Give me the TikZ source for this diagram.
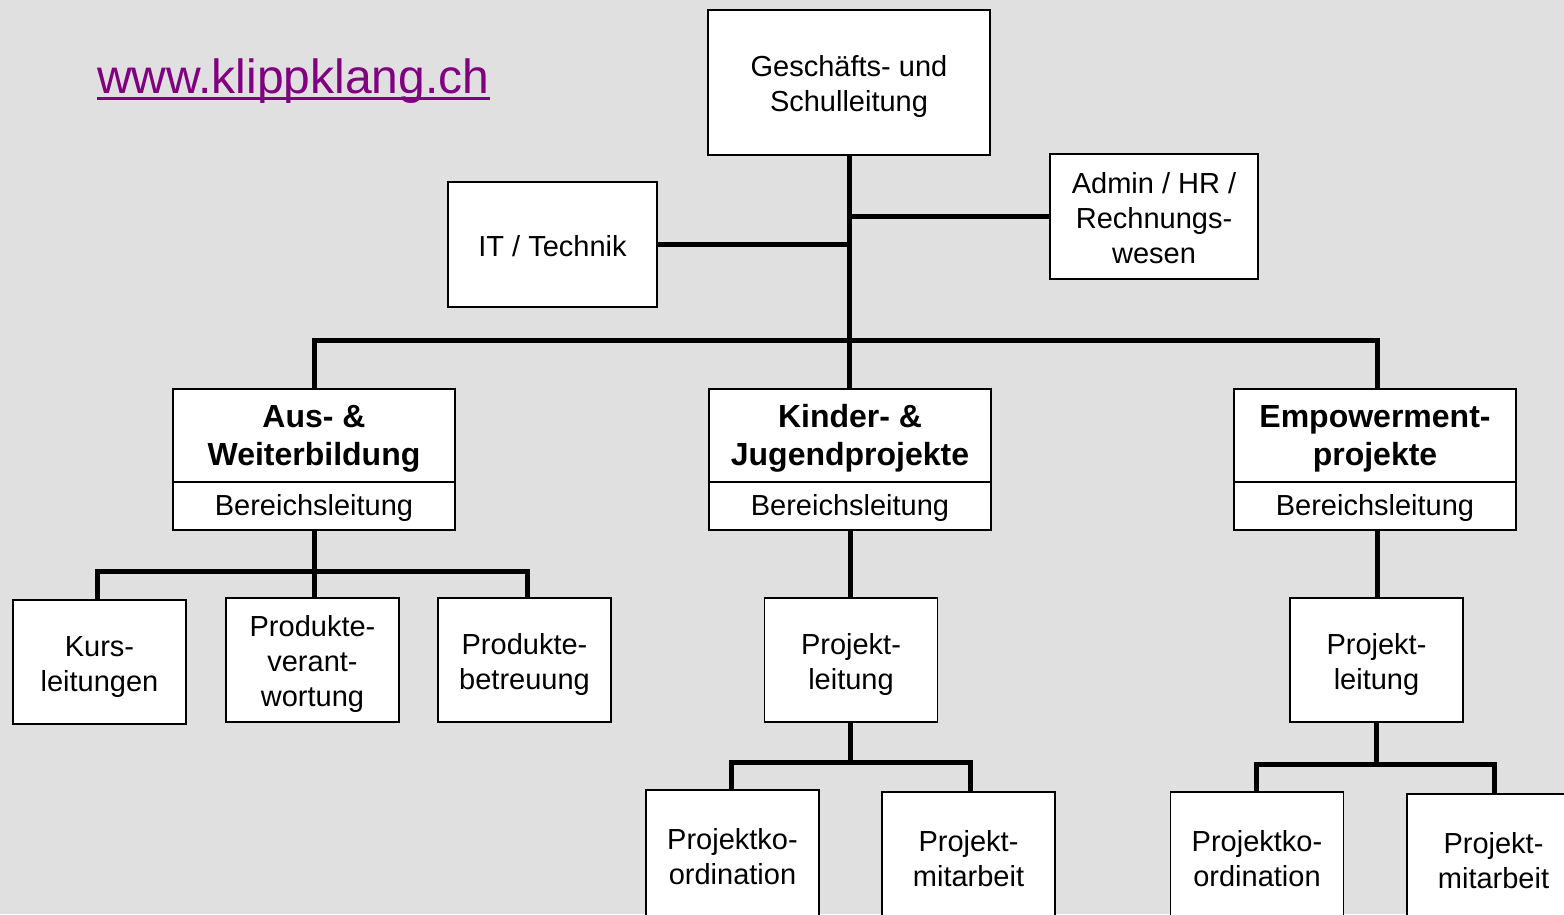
\documentclass[tikz,border=0pt]{standalone}
\usepackage{fontspec}
\setmainfont{Liberation Sans}
\usetikzlibrary{positioning}
\definecolor{bggrey}{HTML}{E0E0E0}
\definecolor{linkpurple}{HTML}{800080}

\begin{document}
\begin{tikzpicture}[x=1pt,y=-1pt,
    pad/.style 2 args={execute at begin node={\rule{0pt}{#1}},
      execute at end node={\rule[-#2]{0pt}{0pt}}},
    box/.style={draw, line width=1.8pt, fill=white, align=flush center, inner sep=0pt,
      text width=165pt, font=\fontsize{29}{35}\selectfont},
    big/.style={box, minimum width=282pt, text width=270pt},
    side/.style={box, minimum height=125pt, text width=200pt, pad={29pt}{6pt}},
    small/.style={box, minimum width=173pt, minimum height=124pt, pad={29pt}{6pt}},
    low/.style={small, minimum height=130pt},
    area/.style={big, minimum height=93pt, font=\bfseries\fontsize{32}{38}\selectfont,
      pad={30pt}{8pt}},
    lead/.style={big, minimum height=48pt, pad={27pt}{8pt}},
    conn/.style={line width=5pt}]
        \fill[bggrey] (0,0) rectangle (1564,914);
        \useasboundingbox (0,0) rectangle (1564,914);
        \clip (0,0) rectangle (1564,914);

        \node[anchor=base west, inner sep=0pt, text=linkpurple,
              font=\fontsize{48}{56}\selectfont] (url) at (97,93) {www.klippklang.ch};
        \draw[linkpurple, line width=3pt] ([yshift=-5.5pt]url.base west) -- ([yshift=-5.5pt]url.base east);

        \node[big, minimum height=145pt, pad={29pt}{6pt}] (top) at (849,82.5) {Geschäfts- und\\Schulleitung};
        \node[side, minimum width=209pt] (it)    at (552.5,244.5) {IT / Technik};
        \node[side, minimum width=208pt] (admin) at (1154,216.5)  {Admin / HR /\\Rechnungs-\\wesen};

        \node[area] (aus)    at (314,435.5)  {Aus- \&\\Weiterbildung};
        \node[area] (kinder) at (850,435.5)  {Kinder- \&\\Jugendprojekte};
        \node[area] (emp)    at (1375,435.5) {Empowerment-\\projekte};
        \node[lead, below=-1.8pt of aus]    (ausbl)    {Bereichsleitung};
        \node[lead, below=-1.8pt of kinder] (kinderbl) {Bereichsleitung};
        \node[lead, below=-1.8pt of emp]    (empbl)    {Bereichsleitung};

        \node[small] (kurs)  at (99.5,662)   {Kurs-\\leitungen};
        \node[small] (prodv) at (312.5,660)  {Produkte-\\verant-\\wortung};
        \node[small] (prodb) at (524.5,660)  {Produkte-\\betreuung};
        \node[small] (kpl)   at (851,660)    {Projekt-\\leitung};
        \node[small] (epl)   at (1376.5,660) {Projekt-\\leitung};

        \node[low] (kko) at (732.5,855)  {Projektko-\\ordination};
        \node[low] (kma) at (968.5,857)  {Projekt-\\mitarbeit};
        \node[low] (eko) at (1257,857)   {Projektko-\\ordination};
        \node[low] (ema) at (1493.5,859) {Projekt-\\mitarbeit};

        \coordinate (bus)  at (849,340);
        \coordinate (abus) at (314,571);
        \coordinate (kbus) at (850,762);
        \coordinate (ebus) at (1376,764);

        % staff units
        \draw[conn] (top.south) |- (it.east);
        \draw[conn] (top.south) |- (admin.west);
        % areas
        \draw[conn] (top.south) -- (bus);
        \draw[conn] (aus.north) |- (bus) -| (emp.north -| 1377,0);
        \draw[conn] (bus) -- (kinder.north -| bus);
        % Aus- & Weiterbildung
        \draw[conn] (ausbl.south) -- (abus);
        \draw[conn] (kurs.north -| 97,0) |- (abus) -| (prodb.north -| 527,0);
        \draw[conn] (abus) -- (prodv.north -| abus);
        % Kinder- & Jugendprojekte
        \draw[conn] (kinderbl.south) -- (kpl.north -| kinderbl.south);
        \draw[conn] (kpl.south -| kbus) -- (kbus);
        \draw[conn] (kko.north -| 731,0) |- (kbus) -| (kma.north -| 970,0);
        % Empowerment
        \draw[conn] (empbl.south -| 1377,0) -- (epl.north -| 1377,0);
        \draw[conn] (epl.south -| ebus) -- (ebus);
        \draw[conn] (eko.north -| 1256,0) |- (ebus) -| (ema.north -| 1494,0);
      \end{tikzpicture}
\end{document}
